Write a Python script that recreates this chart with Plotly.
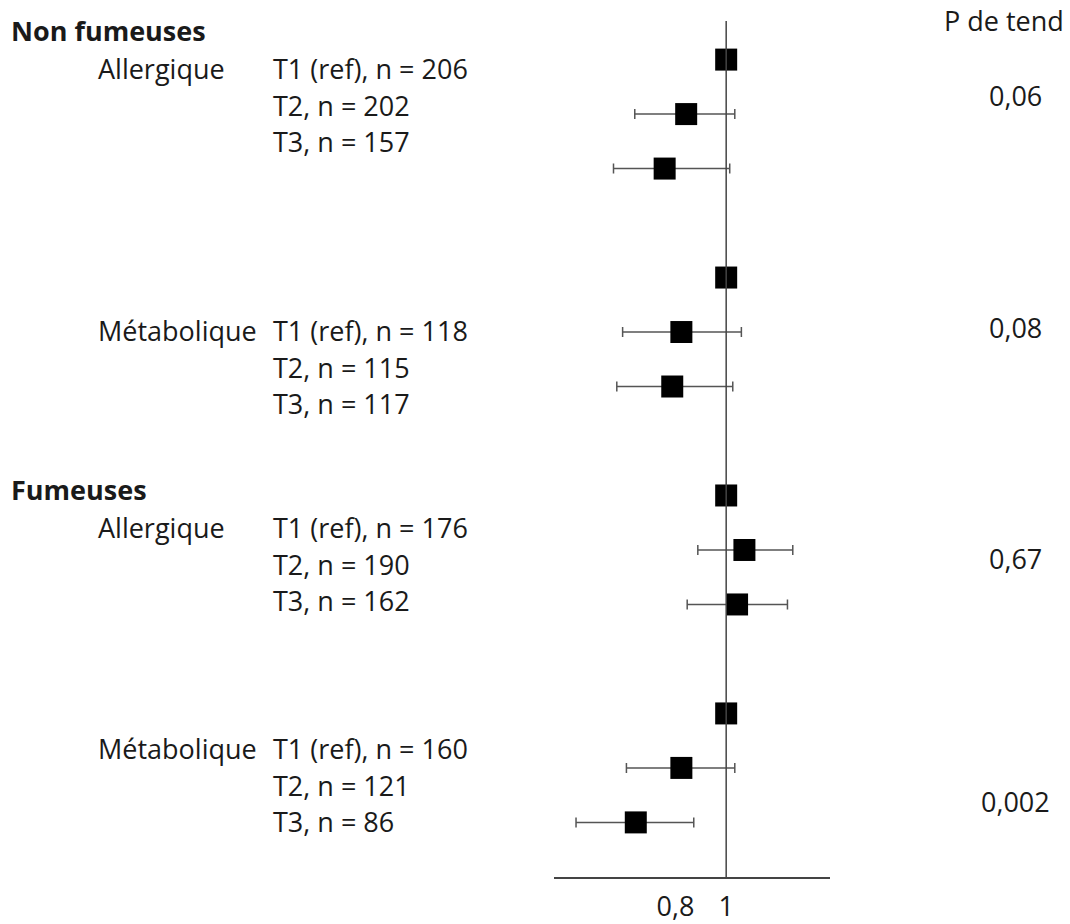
import plotly.graph_objects as go

# ---- data ----
groups = ["Non fumeuses / Allergique", "Non fumeuses / Métabolique",
          "Fumeuses / Allergique", "Fumeuses / Métabolique"]
tiers = ["T1", "T2", "T3"]
# odds ratios (T1 is the reference)
or_values = [
    [1.0, 0.842, 0.757],
    [1.0, 0.823, 0.787],
    [1.0, 1.072, 1.043],
    [1.0, 0.823, 0.643],
]
ci_low = [
    [1.0, 0.639, 0.555],
    [1.0, 0.591, 0.568],
    [1.0, 0.888, 0.846],
    [1.0, 0.606, 0.407],
]
ci_high = [
    [1.0, 1.034, 1.014],
    [1.0, 1.060, 1.026],
    [1.0, 1.263, 1.242],
    [1.0, 1.034, 0.872],
]
n_labels = [
    ["T1 (ref), n = 206", "T2, n = 202", "T3, n = 157"],
    ["T1 (ref), n = 118", "T2, n = 115", "T3, n = 117"],
    ["T1 (ref), n = 176", "T2, n = 190", "T3, n = 162"],
    ["T1 (ref), n = 160", "T2, n = 121", "T3, n = 86"],
]
section_titles = ["Non fumeuses", "Fumeuses"]
subgroup_names = ["Allergique", "Métabolique", "Allergique", "Métabolique"]
p_trend = ["0,06", "0,08", "0,67", "0,002"]
tick_vals = [0.8, 1.0]
tick_text = ["0,8", "1"]

# ---- figure ----
W, H = 1070, 924
FONT = "Open Sans"
FS = 27
TXT = "#1a1a1a"

fig = go.Figure()

xs, ys, em, ep = [], [], [], []
for g in range(len(groups)):
    for t in range(len(tiers)):
        xs.append(or_values[g][t])
        ys.append(g * 4 + t)
        em.append(or_values[g][t] - ci_low[g][t])
        ep.append(ci_high[g][t] - or_values[g][t])

fig.add_trace(go.Scatter(
    x=xs, y=ys, mode="markers",
    marker=dict(symbol="square", size=22, color="black", line=dict(width=0)),
    error_x=dict(type="data", symmetric=False, array=ep, arrayminus=em,
                 color="#555555", thickness=1.5, width=5),
    showlegend=False, hoverinfo="x+y",
))

# reference vertical line at OR = 1
fig.add_shape(type="line", xref="x", yref="y domain", x0=1, x1=1, y0=0, y1=1,
              line=dict(color="#444444", width=1.5))


def py(p):
    return 1 - p / H


def px(p):
    return p / W


def txt(text, xpix, ypix, anchor="left"):
    return dict(text=text, x=px(xpix), y=py(ypix), xref="paper", yref="paper",
                xanchor=anchor, yanchor="middle", showarrow=False,
                font=dict(family=FONT, size=FS, color=TXT))


annotations = []
for title, ypix in zip(section_titles, [31, 492]):
    annotations.append(txt(f"<b>{title}</b>", 9, ypix))
sub_y = [69, 332, 530, 752]
for name, ypix in zip(subgroup_names, sub_y):
    annotations.append(txt(name, 96, ypix))
for g in range(len(groups)):
    for t in range(3):
        annotations.append(txt(n_labels[g][t], 271, sub_y[g] + t * 36.7))
annotations.append(txt("P de tend", 1066, 21, "right"))
for pv, ypix in zip(p_trend, [96, 329, 561, 805]):
    annotations.append(txt(pv, 1015, ypix, "center"))

fig.update_layout(
    width=W, height=H,
    margin=dict(l=0, r=0, t=0, b=0),
    paper_bgcolor="white", plot_bgcolor="white",
    annotations=annotations,
    xaxis=dict(domain=[554 / W, 830 / W], range=[0.32, 1.41],
               tickvals=tick_vals, ticktext=tick_text, ticks="",
               showgrid=False, zeroline=False, showline=True,
               linecolor="#444444", linewidth=1.5,
               tickfont=dict(family=FONT, size=FS, color=TXT),
               ticklabelstandoff=5, fixedrange=True),
    yaxis=dict(domain=[1 - 880.7 / H, 1 - 21 / H], range=[15, -0.71],
               showticklabels=False, ticks="", showgrid=False,
               zeroline=False, showline=False, fixedrange=True),
)

fig.write_html("out.html", config={"displayModeBar": False},
               post_script="document.body.style.margin='0';"
                           "document.body.style.overflow='hidden';")
